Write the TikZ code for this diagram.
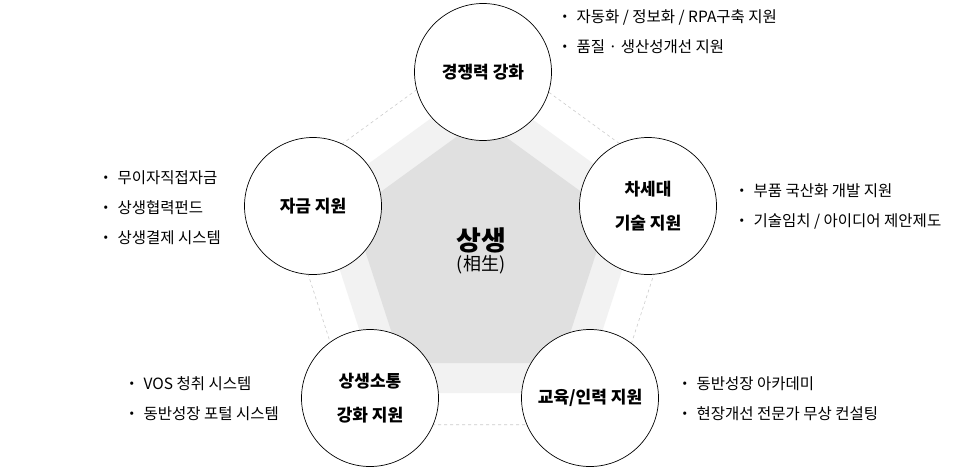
\documentclass[tikz,border=0pt]{standalone}
\usepackage{fontspec}
\setmainfont{Noto Sans CJK KR}
\begin{document}
\begin{tikzpicture}[x=1pt,y=-1pt,
  circ/.style={circle,draw=black,line width=0.7pt,fill=white,minimum size=137pt,align=center,font=\fontsize{17}{34}\selectfont\bfseries,inner sep=0pt},
  item/.style={anchor=west,font=\fontsize{15.5}{18}\selectfont,inner sep=0pt}]
\useasboundingbox (0,0) rectangle (960,469);
\fill[white] (0,0) rectangle (960,469);
\begin{scope}[shift={(481,254)}]
\draw[gray!40,dashed,line width=0.6pt] (-90:211) -- (-18:211) -- (54:211) -- (126:211) -- (198:211) -- cycle;
\fill[black!5] (-90:172) -- (-18:172) -- (54:172) -- (126:172) -- (198:172) -- cycle;
\fill[black!12] (-90:135) -- (-18:135) -- (54:135) -- (126:135) -- (198:135) -- cycle;
\end{scope}
\node[circ] (top) at (483,72) {경쟁력 강화};
\node[circ] (left) at (313,206) {자금 지원};
\node[circ] (right) at (648,206) {차세대\\기술 지원};
\node[circ] (bl) at (370,398) {상생소통\\강화 지원};
\node[circ] (br) at (590,398) {교육/인력 지원};
\node[align=center,inner sep=0pt] (center) at (481,251) {{\fontsize{27}{30}\selectfont\bfseries 상생}\\[1pt]{\fontsize{18}{21}\selectfont (相生)}};
\node[item] (t1) at (560,17) {{\bfseries·}\hspace{7pt}자동화 / 정보화 / RPA구축 지원};
\node[item] (t2) at (560,47) {{\bfseries·}\hspace{7pt}품질 · 생산성개선 지원};
\node[item] (r1) at (737,191) {{\bfseries·}\hspace{7pt}부품 국산화 개발 지원};
\node[item] (r2) at (737,221) {{\bfseries·}\hspace{7pt}기술임치 / 아이디어 제안제도};
\node[item] (l1) at (101,178) {{\bfseries·}\hspace{7pt}무이자직접자금};
\node[item] (l2) at (101,208) {{\bfseries·}\hspace{7pt}상생협력펀드};
\node[item] (l3) at (101,238) {{\bfseries·}\hspace{7pt}상생결제 시스템};
\node[item] (b1) at (127,384) {{\bfseries·}\hspace{7pt}VOS 청취 시스템};
\node[item] (b2) at (127,414) {{\bfseries·}\hspace{7pt}동반성장 포털 시스템};
\node[item] (c1) at (680,384) {{\bfseries·}\hspace{7pt}동반성장 아카데미};
\node[item] (c2) at (680,414) {{\bfseries·}\hspace{7pt}현장개선 전문가 무상 컨설팅};
\end{tikzpicture}
\end{document}
